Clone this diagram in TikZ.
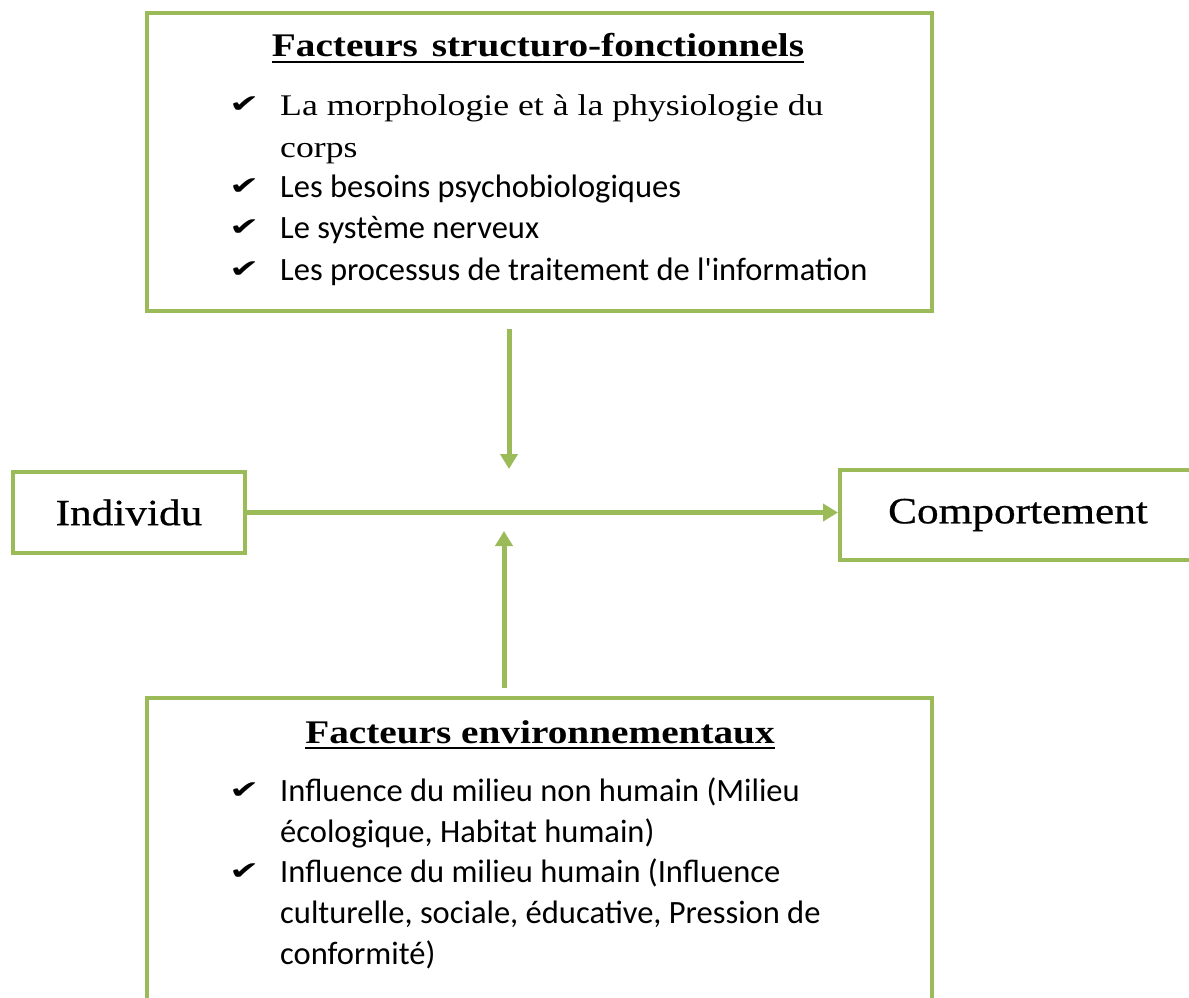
\documentclass[tikz,border=0pt]{standalone}
\usepackage{fontspec}
\setmainfont{Liberation Serif}
\newfontfamily\serifw[FakeStretch=1.19]{Liberation Serif}
\newfontfamily\bigf[FakeStretch=1.17,FakeBold=0.6]{Liberation Serif}
\newfontfamily\titlef[FakeStretch=1.19]{Liberation Serif}
\newfontfamily\sansf{Carlito}
\newfontfamily\checkf{DejaVu Sans}
\usetikzlibrary{arrows.meta}
\definecolor{olivegreen}{HTML}{9BBB59}
\newcommand{\chkmark}{\scalebox{1.45}[1]{✔}}
\tikzset{
  box/.style={draw=olivegreen, line width=4pt, rectangle, inner sep=0pt},
  arr/.style={draw=olivegreen, line width=5pt, -{Triangle[width=17pt,length=15pt]}},
  title/.style={anchor=base, inner sep=0pt, font=\titlef\bfseries\fontsize{33}{40}\selectfont},
  ul/.style={line width=2pt, black},
  big/.style={font=\bigf\fontsize{37}{44}\selectfont},
  item/.style={anchor=base west, inner sep=0pt, font=\sansf\fontsize{32.5}{39}\selectfont},
  itemserif/.style={anchor=base west, inner sep=0pt, font=\serifw\fontsize{30}{36}\selectfont},
  chk/.style={anchor=base west, inner sep=0pt, font=\checkf\fontsize{25}{30}\selectfont},
}
\begin{document}
\begin{tikzpicture}[x=1pt,y=-1pt]
\clip (0,0) rectangle (1189,998);
\fill[white] (0,0) rectangle (1189,998);

% boxes
\node[box, minimum width=785pt, minimum height=298pt] (top) at (539.5,162) {};
\node[box, minimum width=785pt, minimum height=312pt] (bot) at (539.5,854) {};
\node[box, minimum width=232pt, minimum height=81pt, big] (ind) at (129,512.5) {Individu};
\node[box, minimum width=356pt, minimum height=90pt, big] (comp) at (1018,515) {Comportement};

% top box texts
\node[title] (t1) at (538,57) {Facteurs\hspace{4pt} structuro-fonctionnels};
\draw[ul] ([yshift=-5pt]t1.base west) -- ([yshift=-5pt]t1.base east);
\node[chk] (c1) at (229,112) {\chkmark};
\node[itemserif] (l1) at (280,115) {La morphologie et à la physiologie du};
\node[itemserif] (l2) at (280,157) {corps};
\node[chk] (c2) at (229,194) {\chkmark};
\node[item] (l3) at (280,197) {Les besoins psychobiologiques};
\node[chk] (c3) at (229,235) {\chkmark};
\node[item] (l4) at (280,238) {Le système nerveux};
\node[chk] (c4) at (229,277) {\chkmark};
\node[item] (l5) at (280,280) {Les processus de traitement de l'information};

% bottom box texts
\node[title] (t2) at (540,743) {Facteurs environnementaux};
\draw[ul] ([yshift=-5pt]t2.base west) -- ([yshift=-5pt]t2.base east);
\node[chk] (c5) at (229,798) {\chkmark};
\node[item] (m1) at (280,801) {Influence du milieu non humain (Milieu};
\node[item] (m2) at (280,842) {écologique, Habitat humain)};
\node[chk] (c6) at (229,879) {\chkmark};
\node[item] (m3) at (280,882) {Influence du milieu humain (Influence};
\node[item] (m4) at (280,923) {culturelle, sociale, éducative, Pression de};
\node[item] (m5) at (280,964) {conformité)};

% connectors
\coordinate (dtip) at (509,469);
\coordinate (utip) at (504,531);
\draw[arr, shorten <=16pt] (top.south -| dtip) -- (dtip);
\draw[arr, shorten <=8pt] (bot.north -| utip) -- (utip);
\draw[arr] (ind.east) -- (comp.west |- ind.east);
\end{tikzpicture}
\end{document}
